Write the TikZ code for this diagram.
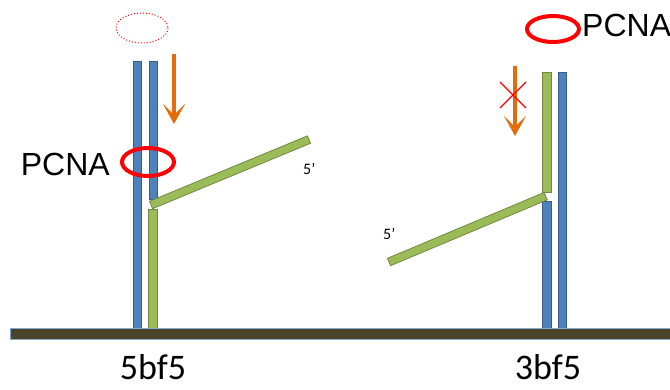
\documentclass[tikz,border=0pt]{standalone}
\usepackage{fontspec}
\setmainfont{Carlito}
\newfontfamily\pcnafont{Liberation Sans}
\usetikzlibrary{arrows.meta}
\definecolor{strandblue}{HTML}{4F81BD}
\definecolor{blueedge}{HTML}{385D8A}
\definecolor{strandgreen}{HTML}{9BBB59}
\definecolor{greenedge}{HTML}{71893F}
\definecolor{slideorange}{HTML}{E46C0A}
\definecolor{basebrown}{HTML}{4A452A}
\begin{document}
\begin{tikzpicture}[x=1pt,y=-1pt,
    bluestrand/.style={fill=strandblue, draw=blueedge, line width=0.8pt},
    greenstrand/.style={fill=strandgreen, draw=greenedge, line width=0.8pt},
    ring/.style={draw=red, line width=4pt},
    slide/.style={draw=slideorange, line width=4pt,
      -{Stealth[length=20pt,width=22pt,inset=11pt]}},
    pcnalabel/.style={inner sep=0pt, font=\pcnafont\fontsize{32}{34}\selectfont},
    sitelabel/.style={inner sep=0pt, font=\fontsize{36}{38}\selectfont},
    endlabel/.style={inner sep=0pt, font=\fontsize{16}{18}\selectfont}]
  \useasboundingbox (0,0) rectangle (670,390);

  % 5bf5: left strands
  \draw[bluestrand] (133,61) rectangle (141,328);
  \draw[bluestrand] (149,61) rectangle (157,199);
  \draw[greenstrand] (148,209) rectangle (157,328);
  \draw[greenstrand, rotate around={22.5:(151,205)}] (151,201) rectangle (322,209);
  \node[endlabel, anchor=base west] (fiveleft) at (303,175) {5’};

  % PCNA leaving (dotted) and loaded
  \draw[red, dotted, line width=1pt] (142,28) ellipse [x radius=26, y radius=15];
  \draw[ring] (148,162) ellipse [x radius=26, y radius=14];
  \node[pcnalabel, anchor=east] (pcnaleft) at (110,164) {PCNA};

  % sliding arrow
  \coordinate (slidetop) at (174,54);
  \coordinate (slidetip) at (174,124);
  \draw[slide] (slidetop) -- (slidetip);

  % 3bf5: right strands
  \draw[greenstrand] (542,72) rectangle (551,192);
  \draw[bluestrand] (542,201) rectangle (551,328);
  \draw[bluestrand] (558,72) rectangle (566,328);
  \draw[greenstrand, rotate around={22.8:(389,262)}] (389,258) rectangle (559,266);
  \node[endlabel, anchor=base west] (fiveright) at (383,240) {5’};

  % PCNA ring on top
  \draw[ring] (553,29) ellipse [x radius=26, y radius=13];
  \node[pcnalabel, anchor=west] (pcnaright) at (582,25) {PCNA};

  % blocked arrow
  \coordinate (blocktop) at (515,66);
  \coordinate (blocktip) at (515,136);
  \draw[slide] (blocktop) -- (blocktip);
  \draw[red, line width=1.2pt] (500,82) -- (526,108) (500,108) -- (526,82);

  % Base
  \draw[fill=basebrown, draw=strandblue!70, line width=0.8pt] (10,328) rectangle (671,339);
  \node[sitelabel, anchor=base] (fivebf) at (153,380) {5bf5};
  \node[sitelabel, anchor=base] (threebf) at (548,380) {3bf5};
\end{tikzpicture}
\end{document}
